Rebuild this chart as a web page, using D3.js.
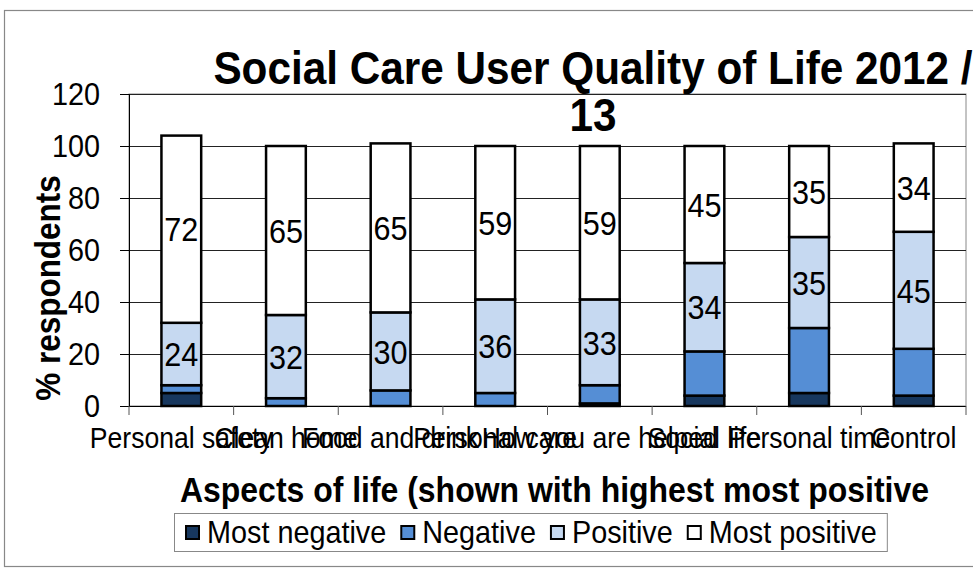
<!DOCTYPE html>
<html>
<head>
<meta charset="utf-8">
<script src="https://cdn.jsdelivr.net/npm/d3@7"></script>
<style>
  body { margin: 0; background: #fff; }
  svg text { font-family: "Liberation Sans", Arial, sans-serif; }
</style>
</head>
<body>
<div id="my_dataviz"></div>
<script>
// categories + series
var categories = ["Personal safety", "Clean home", "Food and drink", "Personal care",
    "How you are helped", "Social life", "Personal time", "Control"];
var seriesNames = ["Most negative", "Negative", "Positive", "Most positive"];
var mostNegative = [5, 0, 0, 0, 1, 4, 5, 4];
var negative = [3, 3, 6, 5, 7, 17, 25, 18];
var positive = [24, 32, 30, 36, 33, 34, 35, 45];
var mostPositive = [72, 65, 65, 59, 59, 45, 35, 34];
var yTicks = [0, 20, 40, 60, 80, 100, 120];
var labelledSeries = ["Positive", "Most positive"];

var colors = ["#17375e", "#558ed5", "#c6d9f1", "#ffffff"];

// the original text is a bit narrow and tall, squeeze it horizontally
var SX = 0.9;
function squeeze(x, y, rot) {
    return "translate(" + x + "," + y + ")" + (rot ? " rotate(" + rot + ")" : "") + " scale(" + SX + ",1)";
}

// build rows for d3.stack
var rows = categories.map(function (c, i) {
    return {
        category: c,
        "Most negative": mostNegative[i],
        "Negative": negative[i],
        "Positive": positive[i],
        "Most positive": mostPositive[i]
    };
});

var W = 973, H = 572;
var margin = { top: 94, right: 7, bottom: 166, left: 129 },
    width = W - margin.left - margin.right,
    height = H - margin.top - margin.bottom;

var root = d3.select("#my_dataviz")
    .append("svg")
    .attr("width", W)
    .attr("height", H);

// outer chart border
root.append("rect")
    .attr("x", 4.5).attr("y", 10.5)
    .attr("width", 990).attr("height", 556)
    .attr("fill", "none")
    .attr("stroke", "#888")
    .attr("stroke-width", 1.2);

var svg = root.append("g")
    .attr("transform", "translate(" + margin.left + "," + margin.top + ")");

var x = d3.scaleBand()
    .domain(categories)
    .range([0, width])
    .paddingInner(0.62)
    .paddingOuter(0.31);

var y = d3.scaleLinear()
    .domain([0, 120])
    .range([height, 0]);

// plot area box
svg.append("rect")
    .attr("x", 0).attr("y", 0)
    .attr("width", width).attr("height", height)
    .attr("fill", "none")
    .attr("stroke", "#888")
    .attr("stroke-width", 1);

// gridlines
svg.append("g")
    .selectAll("line")
    .data(yTicks.filter(function (t) { return t > 0; }))
    .enter()
    .append("line")
    .attr("x1", 0).attr("x2", width)
    .attr("y1", function (d) { return y(d) + 0.5; })
    .attr("y2", function (d) { return y(d) + 0.5; })
    .attr("stroke", "#222")
    .attr("stroke-width", 1);

// Y axis
var yAxis = svg.append("g")
    .call(d3.axisLeft(y).tickValues(yTicks).tickSize(9).tickPadding(20));
yAxis.selectAll("text")
    .attr("x", 0)
    .attr("transform", squeeze(-29, 0))
    .style("font-size", "32px")
    .attr("fill", "#000");
yAxis.selectAll("line, path").attr("stroke", "#000");

// X axis: ticks on band edges
var xAxis = svg.append("g")
    .attr("transform", "translate(0," + height + ")");
xAxis.append("line")
    .attr("x1", 0).attr("x2", width)
    .attr("y1", 0.5).attr("y2", 0.5)
    .attr("stroke", "#000");
xAxis.selectAll(".edge")
    .data(d3.range(categories.length + 1))
    .enter()
    .append("line")
    .attr("x1", function (i) { return i * x.step(); })
    .attr("x2", function (i) { return i * x.step(); })
    .attr("y1", 0).attr("y2", 9)
    .attr("stroke", "#555");
xAxis.selectAll(".lbl")
    .data(categories)
    .enter()
    .append("text")
    .attr("transform", function (d) { return squeeze(x(d) + x.bandwidth() / 2, 42); })
    .attr("text-anchor", "middle")
    .style("font-size", "29.5px")
    .text(function (d) { return d; });

// stacked bars
var stacked = d3.stack().keys(seriesNames)(rows);

var layers = svg.selectAll(".layer")
    .data(stacked)
    .enter()
    .append("g")
    .attr("fill", function (d, i) { return colors[i]; });

layers.selectAll("rect")
    .data(function (d) { return d; })
    .enter()
    .filter(function (d) { return d[1] - d[0] > 0; })
    .append("rect")
    .attr("x", function (d) { return x(d.data.category); })
    .attr("y", function (d) { return y(d[1]); })
    .attr("width", x.bandwidth())
    .attr("height", function (d) { return y(d[0]) - y(d[1]); })
    .attr("stroke", "#000")
    .attr("stroke-width", 2.5);

// value labels for positive / most positive
stacked.filter(function (s) { return labelledSeries.indexOf(s.key) >= 0; })
    .forEach(function (s) {
        svg.append("g")
            .selectAll("text")
            .data(s)
            .enter()
            .append("text")
            .attr("transform", function (d) {
                return squeeze(x(d.data.category) + x.bandwidth() / 2, y((d[0] + d[1]) / 2));
            })
            .attr("dy", "0.36em")
            .attr("text-anchor", "middle")
            .style("font-size", "34px")
            .text(function (d) { return d[1] - d[0]; });
    });

// title (wraps onto two lines in the original)
var title = root.append("text")
    .attr("transform", squeeze(593, 84))
    .attr("text-anchor", "middle")
    .style("font-size", "47px")
    .style("font-weight", "bold");
title.append("tspan").attr("x", 0).attr("y", 0).text("Social Care User Quality of Life 2012 /");
title.append("tspan").attr("x", 0).attr("y", 47).text("13");

// Y axis label
root.append("text")
    .attr("text-anchor", "middle")
    .attr("transform", squeeze(60, 288, -90))
    .style("font-size", "35px")
    .style("font-weight", "bold")
    .text("% respondents");

// X axis label
root.append("text")
    .attr("transform", squeeze(180, 502))
    .style("font-size", "35.5px")
    .style("font-weight", "bold")
    .text("Aspects of life (shown with highest most positive");

// legend
var legend = root.append("g");
var legendBox = legend.append("rect")
    .attr("x", 174.5).attr("y", 513.5)
    .attr("height", 38)
    .attr("fill", "#fff")
    .attr("stroke", "#888");
var lx = 186;
seriesNames.forEach(function (name, i) {
    legend.append("rect")
        .attr("x", lx).attr("y", 526)
        .attr("width", 13).attr("height", 13)
        .attr("fill", colors[i])
        .attr("stroke", "#000")
        .attr("stroke-width", 2);
    var t = legend.append("text")
        .attr("transform", squeeze(lx + 21, 543))
        .style("font-size", "32px")
        .text(name);
    lx += 21 + t.node().getComputedTextLength() * SX + 15;
});
legendBox.attr("width", lx - 174 - 5);
</script>
</body>
</html>
